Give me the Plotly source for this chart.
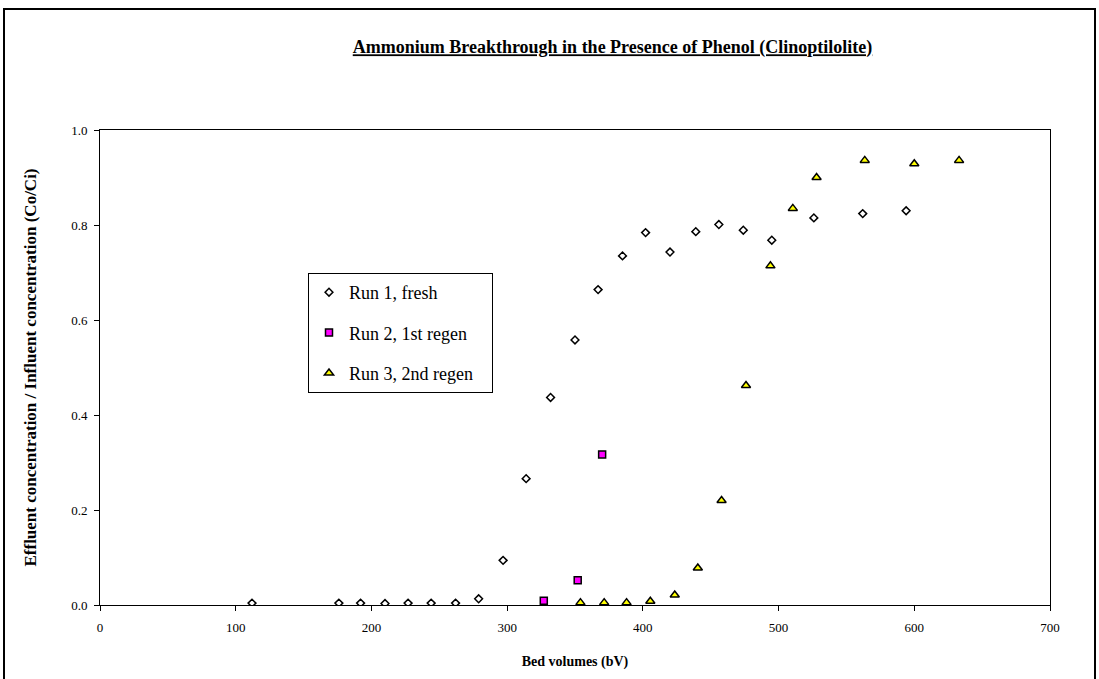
import plotly.graph_objects as go

# Run 1, fresh (diamonds)
run1_bv = [112, 176, 192, 210, 227, 244, 262, 279, 297, 314, 332, 350, 367, 385, 402, 420, 439, 456, 474, 495, 526, 562, 594]
run1_c = [0.004, 0.004, 0.004, 0.003, 0.004, 0.004, 0.004, 0.013, 0.094, 0.266, 0.437, 0.558, 0.664, 0.735, 0.784, 0.743, 0.786, 0.801, 0.789, 0.768, 0.815, 0.824, 0.830]

# Run 2, 1st regen (squares)
run2_bv = [327, 352, 370]
run2_c = [0.009, 0.052, 0.317]

# Run 3, 2nd regen (triangles)
run3_bv = [354, 371.5, 388, 405.5, 423.5, 440.5, 458, 476, 494, 510.5, 528, 563.5, 600, 633]
run3_c = [0.005, 0.005, 0.005, 0.008, 0.021, 0.078, 0.22, 0.462, 0.714, 0.835, 0.90, 0.936, 0.929, 0.936]

x_ticks = [0, 100, 200, 300, 400, 500, 600, 700]
y_ticks = [0.0, 0.2, 0.4, 0.6, 0.8, 1.0]

series_names = ["Run 1, fresh", "Run 2, 1st regen", "Run 3, 2nd regen"]

FONT = "Liberation Serif, Times New Roman, serif"
PAD = "\u00a0\u00a0\u00a0"

fig = go.Figure()
fig.add_trace(go.Scatter(
    x=run1_bv, y=run1_c, mode="markers", name=series_names[0] + PAD, legendgroup="a",
    marker=dict(symbol="diamond", size=6, color="white", line=dict(color="black", width=1.5)),
))
fig.add_trace(go.Scatter(
    x=run2_bv, y=run2_c, mode="markers", name=series_names[1] + PAD, legendgroup="b",
    marker=dict(symbol="square", size=7, color="#FF00FF", line=dict(color="black", width=1.5)),
))
fig.add_trace(go.Scatter(
    x=run3_bv, y=run3_c, mode="markers", name=series_names[2] + PAD, legendgroup="c",
    marker=dict(symbol="triangle-up", size=8, color="#FFFF00", line=dict(color="black", width=1.5)),
))

W, H = 1099, 679
L, R, T, B = 100, 49, 130, 74
pw = W - L - R
ph = H - T - B


def px_x(p):
    return (p - L) / pw


def px_y(p):
    return (H - B - p) / ph


fig.update_layout(
    width=W, height=H,
    margin=dict(l=L, r=R, t=T, b=B),
    paper_bgcolor="white", plot_bgcolor="white",
    font=dict(family=FONT, color="black", size=13),
    title=dict(
        text="<b><u>Ammonium Breakthrough in the Presence of Phenol (Clinoptilolite)</u></b>",
        x=px_x(612.5), xref="paper", xanchor="center",
        y=1 - 47 / H, yref="container", yanchor="middle",
        font=dict(family=FONT, size=18, color="black"),
    ),
    xaxis=dict(
        range=[0, 700], tickvals=x_ticks, ticktext=[str(v) for v in x_ticks],
        showgrid=False, zeroline=False, showline=True, linecolor="black", linewidth=1,
        mirror=True, ticks="outside", ticklen=5, tickcolor="black",
        tickfont=dict(family=FONT, size=13, color="black"), ticklabelstandoff=5,
        title=dict(text="<b>Bed volumes (bV)</b>", font=dict(family=FONT, size=14, color="black"), standoff=22),
    ),
    yaxis=dict(
        range=[0, 1.0], tickvals=y_ticks, ticktext=[f"{v:.1f}" for v in y_ticks],
        showgrid=False, zeroline=False, showline=True, linecolor="black", linewidth=1,
        mirror=True, ticks="outside", ticklen=5, tickcolor="black",
        tickfont=dict(family=FONT, size=13, color="black"), ticklabelstandoff=4,
        title=dict(text="<b>Effluent concentration / Influent concentration (Co/Ci)</b>",
                   font=dict(family=FONT, size=17, color="black"), standoff=30),
    ),
    legend=dict(
        x=px_x(308), y=px_y(273), xanchor="left", yanchor="top",
        bgcolor="white", bordercolor="black", borderwidth=1,
        font=dict(family=FONT, size=18, color="black"),
        tracegroupgap=14, itemwidth=30,
    ),
    showlegend=True,
    shapes=[dict(
        type="rect", xref="paper", yref="paper",
        x0=px_x(4), x1=px_x(1095), y0=px_y(700), y1=px_y(9),
        line=dict(color="black", width=2), fillcolor="rgba(0,0,0,0)", layer="above",
    )],
)

fig.write_html(
    "out.html",
    config={"displayModeBar": False},
    post_script="document.body.style.margin='0';document.body.style.overflow='hidden';",
)
